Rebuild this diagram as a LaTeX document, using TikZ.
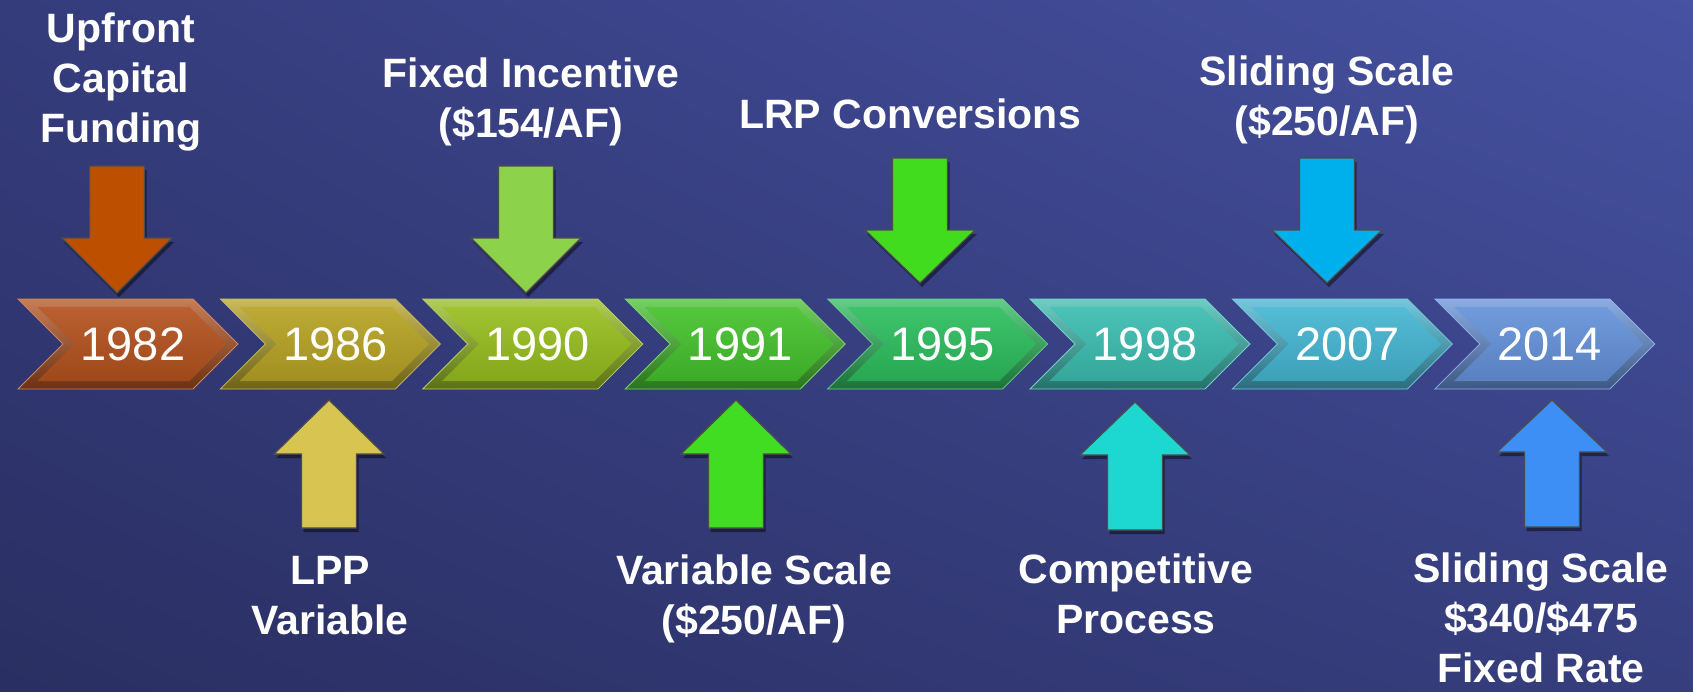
\documentclass[tikz,border=0pt]{standalone}
\usepackage{fontspec}
\setmainfont{Liberation Sans}
\usetikzlibrary{shadows,shadings}

\definecolor{bgTL}{HTML}{353C7C}
\definecolor{bgTR}{HTML}{4652A2}
\definecolor{bgBL}{HTML}{2A2F62}
\definecolor{bgBR}{HTML}{363E7E}

\definecolor{chA}{HTML}{B4521E}
\definecolor{chB}{HTML}{B7A324}
\definecolor{chC}{HTML}{97BE1F}
\definecolor{chD}{HTML}{45C22D}
\definecolor{chE}{HTML}{2DBE5E}
\definecolor{chF}{HTML}{3CBDB0}
\definecolor{chG}{HTML}{45B6D2}
\definecolor{chH}{HTML}{6592DA}

\definecolor{arA}{HTML}{BC5000}
\definecolor{arB}{HTML}{D8C450}
\definecolor{arC}{HTML}{8DD24B}
\definecolor{arD}{HTML}{40DD22}
\definecolor{arE}{HTML}{41DC1E}
\definecolor{arF}{HTML}{1DD8D0}
\definecolor{arG}{HTML}{00B0EC}
\definecolor{arH}{HTML}{3D8EF5}

\begin{document}
\begin{tikzpicture}[
    x=1pt, y=-1pt,
    yr/.style={text=white, font=\fontsize{47}{50}\selectfont, inner sep=0pt, anchor=base},
    lbl/.style={text=white, font=\bfseries\fontsize{41}{50}\selectfont, align=center, inner sep=0pt},
    blk/.style={draw=black!70, line width=1.2pt, line join=miter,
      drop shadow={shadow xshift=2pt, shadow yshift=-4pt, opacity=0.45, fill=black}}
  ]
    % Fondo
    \useasboundingbox (0,0) rectangle (1693,691);
    \shade[upper left=bgTL, upper right=bgTR, lower left=bgBL, lower right=bgBR]
      (0,0) rectangle (1693,691);

    % Chevrons con los años
    \foreach \i/\yr/\col in {0/1982/chA, 1/1986/chB, 2/1990/chC, 3/1991/chD,
                             4/1995/chE, 5/1998/chF, 6/2007/chG, 7/2014/chH} {
      \pgfmathsetmacro\xo{18+202.4*\i}
      \shadedraw[top color=\col!75!white, bottom color=\col!60!black, draw=\col!70!white, line width=0.8pt]
        (\xo,299) -- ++(175,0) -- ++(45,45) -- ++(-45,45) -- ++(-175,0) -- ++(45,-45) -- cycle;
      \shade[top color=\col!92!white, bottom color=\col!88!black]
        (\xo+19.3,307) -- (\xo+171.7,307) -- (\xo+208.7,344) -- (\xo+171.7,381)
        -- (\xo+19.3,381) -- (\xo+56.3,344) -- cycle;
      \node[yr] (y\yr) at (\xo+115,360) {\yr};
    }

    % Flechas (centro / base del tallo / base de la punta / punta)
    \foreach \cx/\ya/\yb/\yc/\col in {117/166/238/293/arA, 526/166/238/293/arC,
                                      920/158/230/283/arE, 1327/158/230/283/arG,
                                      329/528/454/400/arB, 736/528/454/400/arD,
                                      1135/530/455/402/arF, 1552/527/452/400/arH} {
      \draw[blk, fill=\col] (\cx-27.5,\ya) -- (\cx+27.5,\ya) -- (\cx+27.5,\yb) -- (\cx+55,\yb)
        -- (\cx,\yc) -- (\cx-55,\yb) -- (\cx-27.5,\yb) -- cycle;
    }

    % Etiquetas de arriba
    \node[lbl, anchor=south] (lUpfront) at (121,151) {Upfront\\Capital\\Funding};
    \node[lbl, anchor=south] (lFixed) at (531,146) {Fixed Incentive\\(\$154/AF)};
    \node[lbl, anchor=base] (lLRP) at (910,128) {LRP Conversions};
    \node[lbl, anchor=south] (lSlideA) at (1327,144) {Sliding Scale\\(\$250/AF)};

    % Etiquetas de abajo
    \node[lbl, anchor=north] (lLPP) at (330,556) {LPP\\Variable};
    \node[lbl, anchor=north] (lVar) at (754,555) {Variable Scale\\(\$250/AF)};
    \node[lbl, anchor=north] (lComp) at (1136,554) {Competitive\\Process};
    \node[lbl, anchor=north] (lSlideB) at (1541,553) {Sliding Scale\\\$340/\$475\\Fixed Rate};
  \end{tikzpicture}
\end{document}
